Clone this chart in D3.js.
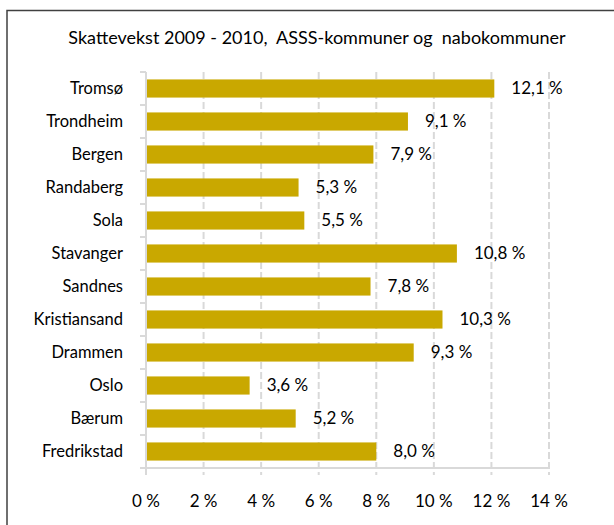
<!DOCTYPE html>
<html>
<head>
<meta charset="utf-8">
<script src="https://cdn.jsdelivr.net/npm/d3@7"></script>
<style>
  body { margin: 0; background: #fff; }
  text { font-family: Lato, "Noto Sans", sans-serif; fill: #000; }
</style>
</head>
<body>
<div id="chart"></div>
<script>
// data
const kommuner = ["Tromsø", "Trondheim", "Bergen", "Randaberg", "Sola", "Stavanger",
  "Sandnes", "Kristiansand", "Drammen", "Oslo", "Bærum", "Fredrikstad"];
const vekst = [12.1, 9.1, 7.9, 5.3, 5.5, 10.8, 7.8, 10.3, 9.3, 3.6, 5.2, 8.0];
const xTicks = [0, 2, 4, 6, 8, 10, 12, 14];
const title = "Skattevekst 2009 - 2010,  ASSS-kommuner og  nabokommuner";

const W = 614, H = 525;
const margin = { top: 72, right: 65, bottom: 57, left: 146 };
const width = W - margin.left - margin.right;
const height = H - margin.top - margin.bottom;

const svg = d3.select("#chart").append("svg")
  .attr("width", W)
  .attr("height", H);

// frame
svg.append("path")
  .attr("d", `M7,${H} V10.5 H${W}`)
  .attr("fill", "none")
  .attr("stroke", "#404040")
  .attr("stroke-width", 1.5);

svg.append("text")
  .attr("x", 317)
  .attr("y", 44)
  .attr("text-anchor", "middle")
  .attr("xml:space", "preserve")
  .style("white-space", "pre")
  .style("font-size", "18px")
  .text(title);

const g = svg.append("g")
  .attr("transform", `translate(${margin.left},${margin.top})`);

const x = d3.scaleLinear().domain([0, 14]).range([0, width]);
const y = d3.scaleBand().domain(kommuner).range([0, height]).paddingInner(0.45).paddingOuter(0.225);

// grid lines
g.selectAll(".grid")
  .data(xTicks.slice(1))
  .enter().append("line")
  .attr("class", "grid")
  .attr("x1", d => x(d)).attr("x2", d => x(d))
  .attr("y1", 0).attr("y2", height + 7)
  .attr("stroke", "#d9d9d9")
  .attr("stroke-width", 2)
  .attr("stroke-dasharray", "7,3");

// bottom axis line
g.append("line")
  .attr("x1", 0).attr("x2", width)
  .attr("y1", height).attr("y2", height)
  .attr("stroke", "#d9d9d9").attr("stroke-width", 2);

// left axis with category tick marks
const step = y.step();
g.append("line")
  .attr("x1", 0).attr("x2", 0)
  .attr("y1", 0).attr("y2", height + 7)
  .attr("stroke", "#d9d9d9").attr("stroke-width", 2);
g.selectAll(".ytick")
  .data(d3.range(kommuner.length + 1))
  .enter().append("line")
  .attr("x1", -6).attr("x2", 0)
  .attr("y1", i => i * step).attr("y2", i => i * step)
  .attr("stroke", "#d9d9d9").attr("stroke-width", 2);

// bars
g.selectAll(".bar")
  .data(kommuner)
  .enter().append("rect")
  .attr("class", "bar")
  .attr("x", 1)
  .attr("y", d => y(d))
  .attr("width", (d, i) => x(vekst[i]) - 1)
  .attr("height", y.bandwidth())
  .attr("fill", "#c9a800");

// value labels
g.selectAll(".val")
  .data(kommuner)
  .enter().append("text")
  .attr("x", (d, i) => x(vekst[i]) + 17)
  .attr("y", d => y(d) + y.bandwidth() / 2)
  .attr("dy", "0.35em")
  .attr("xml:space", "preserve")
  .style("white-space", "pre")
  .style("font-size", "17px")
  .text((d, i) => vekst[i].toFixed(1).replace(".", ",") + " %");

// category labels
g.selectAll(".cat")
  .data(kommuner)
  .enter().append("text")
  .attr("x", -23)
  .attr("y", d => y(d) + y.bandwidth() / 2)
  .attr("dy", "0.35em")
  .attr("text-anchor", "end")
  .style("font-size", "16.5px")
  .text(d => d);

// x tick labels
g.selectAll(".xt")
  .data(xTicks)
  .enter().append("text")
  .attr("x", d => x(d))
  .attr("y", height + 39)
  .attr("text-anchor", "middle")
  .style("font-size", "17px")
  .text(d => d + " %");
</script>
</body>
</html>
